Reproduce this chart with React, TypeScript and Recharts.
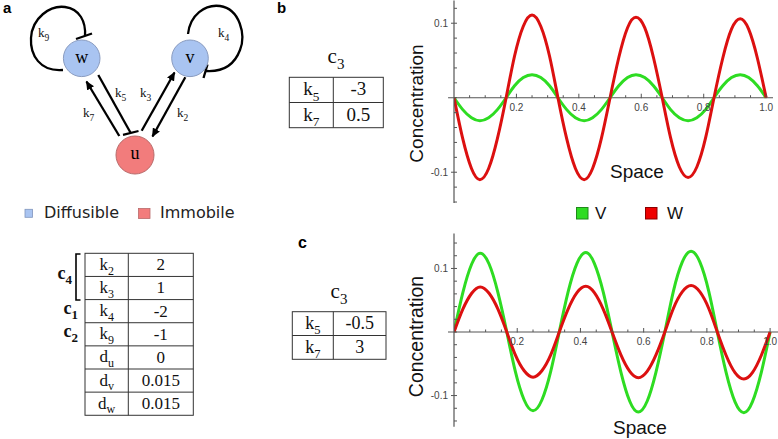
import React from 'react';
import { LineChart, Line, XAxis, YAxis, ReferenceDot, ReferenceLine } from 'recharts';

// ---------- data ----------
const space = [
  0, 0.028, 0.056, 0.083, 0.111, 0.139, 0.167, 0.194, 0.222, 0.25, 0.278, 0.306, 0.333,
  0.361, 0.389, 0.417, 0.444, 0.472, 0.5, 0.528, 0.556, 0.583, 0.611, 0.639, 0.667,
  0.694, 0.722, 0.75, 0.778, 0.806, 0.833, 0.861, 0.889, 0.917, 0.944, 0.972, 1.0,
];

// panel b
const bV = [
  0, -0.016, -0.027, -0.031, -0.027, -0.016, 0, 0.016, 0.027, 0.031, 0.027, 0.016, 0,
  -0.016, -0.027, -0.031, -0.027, -0.016, 0, 0.016, 0.027, 0.031, 0.027, 0.016, 0,
  -0.016, -0.027, -0.031, -0.027, -0.016, 0, 0.016, 0.027, 0.031, 0.027, 0.016, 0,
];
const bW = [
  0, -0.055, -0.095, -0.11, -0.095, -0.055, 0, 0.056, 0.096, 0.111, 0.096, 0.056, 0,
  -0.055, -0.095, -0.11, -0.095, -0.055, 0, 0.054, 0.094, 0.108, 0.094, 0.054, 0,
  -0.054, -0.093, -0.107, -0.093, -0.054, 0, 0.053, 0.092, 0.106, 0.092, 0.053, 0,
];

// panel c
const cV = [
  0, 0.062, 0.107, 0.124, 0.107, 0.062, 0, -0.062, -0.107, -0.124, -0.107, -0.062, 0,
  0.063, 0.108, 0.125, 0.108, 0.063, 0, -0.063, -0.109, -0.126, -0.109, -0.063, 0,
  0.064, 0.11, 0.127, 0.11, 0.064, 0, -0.064, -0.11, -0.127, -0.11, -0.064, 0,
];
const cW = [
  0, 0.036, 0.061, 0.071, 0.061, 0.036, 0, -0.036, -0.061, -0.071, -0.061, -0.036, 0,
  0.036, 0.062, 0.072, 0.062, 0.036, 0, -0.036, -0.062, -0.072, -0.062, -0.036, 0,
  0.037, 0.063, 0.073, 0.063, 0.037, 0, -0.037, -0.064, -0.074, -0.064, -0.037, 0,
];

const xTicks = [0.05, 0.1, 0.15, 0.2, 0.25, 0.3, 0.35, 0.4, 0.45, 0.5, 0.55, 0.6, 0.65, 0.7, 0.75, 0.8, 0.85, 0.9, 0.95, 1.0];
const xTickLabels = [
  { v: 0.2, label: '0.2' },
  { v: 0.4, label: '0.4' },
  { v: 0.6, label: '0.6' },
  { v: 0.8, label: '0.8' },
  { v: 1.0, label: '1.0' },
];
const yTicksB = [-0.14, -0.12, -0.1, -0.08, -0.06, -0.04, -0.02, 0, 0.02, 0.04, 0.06, 0.08, 0.1, 0.12];
const yTicksC = [-0.14, -0.12, -0.1, -0.08, -0.06, -0.04, -0.02, 0, 0.02, 0.04, 0.06, 0.08, 0.1, 0.12, 0.14];
const yTickLabels = [
  { v: 0.1, label: '0.1' },
  { v: -0.1, label: '-0.1' },
];

const seriesNames = ['V', 'W'];

// parameter tables
const paramBase = ['k', 'k', 'k', 'k', 'd', 'd', 'd'];
const paramSub = ['2', '3', '4', '9', 'u', 'v', 'w'];
const paramValue = ['2', '1', '-2', '-1', '0', '0.015', '0.015'];
const groupLabels = [
  { sub: '4', row: 1 },
  { sub: '1', row: 2.5 },
  { sub: '2', row: 3.5 },
];
const bTableSub = ['5', '7'];
const bTableValue = ['-3', '0.5'];
const cTableSub = ['5', '7'];
const cTableValue = ['-0.5', '3'];

const dataB = space.map((x, i) => ({ x, V: bV[i], W: bW[i] }));
const dataC = space.map((x, i) => ({ x, V: cV[i], W: cW[i] }));

// ---------- styles ----------
const GREEN = '#2edc22';
const RED = '#dc1010';
const AXIS = '#555';
const SANS = 'Liberation Sans, Arial, sans-serif';
const SERIF = 'Liberation Serif, Times New Roman, serif';

const YTick = (props: any) => {
  const { x, y, payload } = props;
  const m = yTickLabels.find((l) => Math.abs(l.v - payload.value) < 1e-9);
  return (
    <g>
      <line x1={m ? x - 3 : x} x2={x + 3} y1={y} y2={y} stroke={AXIS} strokeWidth={1} />
      {m && (
        <text x={x - 6} y={y} dy="0.35em" textAnchor="end" fontSize={10} fill="#444" fontFamily={SANS}>
          {m.label}
        </text>
      )}
    </g>
  );
};

const xTickShape = (label?: string) => (props: any) => {
  const { cx, cy } = props;
  return (
    <g>
      <line x1={cx} x2={cx} y1={cy + (label ? 0.5 : 0)} y2={cy - (label ? 4 : 2.5)} stroke={AXIS} strokeWidth={1} />
      {label && (
        <text x={cx} y={cy + 13} textAnchor="middle" fontSize={10} fill="#444" fontFamily={SANS}>
          {label}
        </text>
      )}
    </g>
  );
};

function Wave({ data, yDomain, yTicks, xMax, top, height, margin }: any) {
  return (
    <div style={{ position: 'absolute', left: 370, top, width: 408, height }}>
      <LineChart width={408} height={height} data={data} margin={margin}>
        <XAxis dataKey="x" type="number" domain={[0, xMax]} hide allowDataOverflow />
        <YAxis
          type="number"
          domain={yDomain}
          ticks={yTicks}
          interval={0}
          allowDataOverflow
          width={74}
          tickSize={0}
          tickMargin={0}
          tickLine={false}
          axisLine={{ stroke: AXIS, strokeWidth: 1.2 }}
          tick={<YTick />}
        />
        <ReferenceLine
          segment={[{ x: -0.019, y: 0 }, { x: xMax, y: 0 }]}
          stroke={AXIS}
          strokeWidth={1.2}
          ifOverflow="visible"
        />
        {xTicks.map((t) => {
          const m = xTickLabels.find((l) => Math.abs(l.v - t) < 1e-9);
          return <ReferenceDot key={t} x={t} y={0} r={1} shape={xTickShape(m ? m.label : undefined)} />;
        })}
        <Line dataKey="V" type="natural" stroke={GREEN} strokeWidth={3} dot={false} isAnimationActive={false} />
        <Line dataKey="W" type="natural" stroke={RED} strokeWidth={3} dot={false} isAnimationActive={false} />
      </LineChart>
    </div>
  );
}

function SubText({ x, y, base, sub, size, subSize, anchor = 'middle', weight = 'normal' }: any) {
  return (
    <text x={x} y={y} fontSize={size} textAnchor={anchor} fontFamily={SERIF} fontWeight={weight} fill="#111">
      <tspan>{base}</tspan>
      <tspan fontSize={subSize} dy={size * 0.28}>
        {sub}
      </tspan>
    </text>
  );
}

function SmallTable({ left, mid, right, top, rowH, subs, values, size }: any) {
  const n = subs.length;
  return (
    <g>
      <rect x={left} y={top} width={right - left} height={rowH * n} fill="none" stroke="#333" strokeWidth={1} />
      <line x1={mid} x2={mid} y1={top} y2={top + rowH * n} stroke="#333" strokeWidth={1} />
      {subs.map((s: string, i: number) => (
        <g key={i}>
          {i > 0 && <line x1={left} x2={right} y1={top + rowH * i} y2={top + rowH * i} stroke="#333" strokeWidth={1} />}
          <SubText x={(left + mid) / 2} y={top + rowH * i + rowH * 0.72} base="k" sub={s} size={size} subSize={size * 0.7} />
          <text x={(mid + right) / 2} y={top + rowH * i + rowH * 0.72} fontSize={size} textAnchor="middle" fontFamily={SERIF} fill="#111">
            {values[i]}
          </text>
        </g>
      ))}
    </g>
  );
}

function Overlay() {
  const tL = 85, tM = 128.3, tR = 193.3, tT = 253.3, rh = 23.14;
  return (
    <svg width={778} height={439} style={{ position: 'absolute', left: 0, top: 0 }}>
      <defs>
        <marker id="arr" markerWidth="9" markerHeight="8" refX="8" refY="4" orient="auto" markerUnits="userSpaceOnUse">
          <path d="M0,0 L9,4 L0,8 z" fill="#000" />
        </marker>
      </defs>
      {/* panel letters */}
      <text x={3} y={12.5} fontSize={15} fontWeight="bold" fontFamily={SANS}>a</text>
      <text x={277} y={13.3} fontSize={15} fontWeight="bold" fontFamily={SANS}>b</text>
      <text x={298} y={248.3} fontSize={16} fontWeight="bold" fontFamily={SANS}>c</text>

      {/* network: self loops */}
      <path d="M63,70 C40,72 30,55 31,38 C32,18 50,5 65,7 C80,9 86,22 85,36" fill="none" stroke="#000" strokeWidth={2.3} />
      <line x1={76} y1={39} x2={92} y2={33.5} stroke="#000" strokeWidth={2.3} />
      <path d="M188,34 C190,15 205,4 220,6 C240,9 246,35 240,50 C234,66 222,72 206,71" fill="none" stroke="#000" strokeWidth={2.3} />
      <line x1={203.5} y1={78} x2={207.5} y2={64.5} stroke="#000" strokeWidth={2.3} />
      {/* edges */}
      <line x1={119.3} y1={136} x2={86.5} y2={81.5} stroke="#000" strokeWidth={2.3} markerEnd="url(#arr)" />
      <line x1={98.3} y1={75} x2={130.7} y2={133} stroke="#000" strokeWidth={2.3} />
      <line x1={123} y1={134.8} x2={138.5} y2={131} stroke="#000" strokeWidth={2.3} />
      <line x1={141.7} y1={130.7} x2={174.5} y2={72.5} stroke="#000" strokeWidth={2.3} markerEnd="url(#arr)" />
      <line x1={185.3} y1={77.3} x2={152.5} y2={136.5} stroke="#000" strokeWidth={2.3} markerEnd="url(#arr)" />
      {/* nodes */}
      <circle cx={81.7} cy={58.3} r={18.3} fill="#a9c4f1" stroke="#8a9cc0" strokeWidth={1} />
      <circle cx={190} cy={58.3} r={18.3} fill="#a9c4f1" stroke="#8a9cc0" strokeWidth={1} />
      <circle cx={135} cy={155} r={19} fill="#f27c7c" stroke="#b86a6a" strokeWidth={1} />
      <text x={81.7} y={63.3} fontSize={18} textAnchor="middle" fontFamily={SERIF}>w</text>
      <text x={190} y={63.3} fontSize={18} textAnchor="middle" fontFamily={SERIF}>v</text>
      <text x={135} y={159} fontSize={18} textAnchor="middle" fontFamily={SERIF}>u</text>
      {/* edge labels */}
      <SubText x={38} y={37} base="k" sub="9" size={13} subSize={9.5} anchor="start" />
      <SubText x={218} y={37} base="k" sub="4" size={13} subSize={9.5} anchor="start" />
      <SubText x={115} y={97} base="k" sub="5" size={13} subSize={9.5} anchor="start" />
      <SubText x={140} y={97} base="k" sub="3" size={13} subSize={9.5} anchor="start" />
      <SubText x={83} y={117} base="k" sub="7" size={13} subSize={9.5} anchor="start" />
      <SubText x={177} y={117} base="k" sub="2" size={13} subSize={9.5} anchor="start" />

      {/* legend a */}
      <rect x={25} y={209.3} width={7.5} height={8} fill="#a9c4f1" stroke="#7f95bd" strokeWidth={0.8} />
      <text x={44} y={218} fontSize={16} fontFamily="DejaVu Sans, sans-serif" fill="#222">Diffusible</text>
      <rect x={138.5} y={208.5} width={11.5} height={10} fill="#f27c7c" stroke="#b86a6a" strokeWidth={0.8} />
      <text x={160} y={218} fontSize={16} fontFamily="DejaVu Sans, sans-serif" fill="#222">Immobile</text>

      {/* parameter table a */}
      <rect x={tL} y={tT} width={tR - tL} height={rh * 7} fill="none" stroke="#333" strokeWidth={1} />
      <line x1={tM} x2={tM} y1={tT} y2={tT + rh * 7} stroke="#333" strokeWidth={1} />
      {paramBase.map((b, i) => (
        <g key={i}>
          {i > 0 && <line x1={tL} x2={tR} y1={tT + rh * i} y2={tT + rh * i} stroke="#333" strokeWidth={1} />}
          <SubText x={(tL + tM) / 2} y={tT + rh * i + 16.5} base={b} sub={paramSub[i]} size={17} subSize={12} />
          <text x={(tM + tR) / 2} y={tT + rh * i + 17} fontSize={17} textAnchor="middle" fontFamily={SERIF} fill="#111">
            {paramValue[i]}
          </text>
        </g>
      ))}
      <path d="M80.5,254 H76 V300 H80.5" fill="none" stroke="#000" strokeWidth={1.6} />
      {groupLabels.map((g, i) => (
        <SubText key={i} x={g.sub === '4' ? 72 : 78} y={tT + rh * g.row + 3} base="c" sub={g.sub} size={18} subSize={13} anchor="end" weight="bold" />
      ))}

      {/* panel b table */}
      <SubText x={336} y={63} base="c" sub="3" size={21} subSize={15} />
      <SmallTable left={289.3} mid={333.3} right={383.3} top={77.3} rowH={25.2} subs={bTableSub} values={bTableValue} size={19} />
      {/* panel c table */}
      <SubText x={339} y={298} base="c" sub="3" size={21} subSize={15} />
      <SmallTable left={292.3} mid={333.3} right={386} top={311.7} rowH={23.8} subs={cTableSub} values={cTableValue} size={18} />

      {/* axis titles */}
      <text transform="translate(423,103.5) rotate(-90)" textAnchor="middle" fontSize={19} fontFamily={SANS} fill="#111">Concentration</text>
      <text x={610} y={178} fontSize={19} fontFamily={SANS} fill="#111">Space</text>
      <text transform="translate(423,336.5) rotate(-90)" textAnchor="middle" fontSize={19.5} fontFamily={SANS} fill="#111">Concentration</text>
      <text x={613} y={433.5} fontSize={19} fontFamily={SANS} fill="#111">Space</text>

      {/* series legend */}
      <rect x={576.5} y={207.5} width={11.5} height={11.5} fill={GREEN} stroke="#1f8a1a" strokeWidth={1} />
      <text x={595} y={219} fontSize={17} fontFamily={SANS} fill="#111">{seriesNames[0]}</text>
      <rect x={645.5} y={207.5} width={11.5} height={11.5} fill="#ee0000" stroke="#8a0000" strokeWidth={1} />
      <text x={667} y={219} fontSize={17} fontFamily={SANS} fill="#111">{seriesNames[1]}</text>
    </svg>
  );
}

export default function App() {
  return (
    <div style={{ position: 'absolute', left: 0, top: 0, width: 778, height: 439, background: '#fff', overflow: 'hidden' }}>
      <Overlay />
      <Wave
        data={dataB}
        yDomain={[-0.1413, 0.1305]}
        yTicks={yTicksB}
        xMax={1.022}
        top={0}
        height={215}
        margin={{ top: 0.5, right: 5, bottom: 12, left: 10 }}
      />
      <Wave
        data={dataC}
        yDomain={[-0.149, 0.155]}
        yTicks={yTicksC}
        xMax={1.025}
        top={225}
        height={214}
        margin={{ top: 8.5, right: 0, bottom: 12.3, left: 10 }}
      />
    </div>
  );
}
